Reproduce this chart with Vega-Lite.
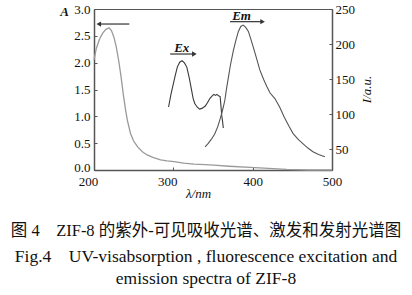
{
  "$schema": "https://vega.github.io/schema/vega-lite/v6.json",
  "width": 238,
  "height": 161,
  "autosize": "none",
  "padding": {"left": 94, "top": 9, "right": 80, "bottom": 125},
  "background": "white",
  "datasets": {
    "abs": [
      {"wl": 200, "val": 2.05}, {"wl": 203, "val": 2.27}, {"wl": 207, "val": 2.44}, {"wl": 211, "val": 2.55},
      {"wl": 215, "val": 2.62}, {"wl": 219, "val": 2.65}, {"wl": 222, "val": 2.6}, {"wl": 225, "val": 2.48},
      {"wl": 228, "val": 2.3}, {"wl": 231, "val": 2.05}, {"wl": 234, "val": 1.75}, {"wl": 237, "val": 1.4},
      {"wl": 240, "val": 1.1}, {"wl": 242, "val": 0.93}, {"wl": 246, "val": 0.68}, {"wl": 250, "val": 0.54},
      {"wl": 255, "val": 0.43}, {"wl": 261, "val": 0.34}, {"wl": 267, "val": 0.28}, {"wl": 275, "val": 0.23},
      {"wl": 284, "val": 0.19}, {"wl": 292, "val": 0.17}, {"wl": 301, "val": 0.155}, {"wl": 313, "val": 0.13},
      {"wl": 326, "val": 0.11}, {"wl": 340, "val": 0.1}, {"wl": 351, "val": 0.09}, {"wl": 370, "val": 0.07},
      {"wl": 397, "val": 0.05}, {"wl": 420, "val": 0.03}, {"wl": 443, "val": 0.01}, {"wl": 470, "val": 0.0},
      {"wl": 500, "val": 0.0}
    ],
    "absArrow": [{"wl": 244.5, "wl2": 207, "val": 2.72}],
    "absHead": [{"wl": 206, "val": 2.72}],
    "fl": [
      {"series": "Ex", "wl": 294, "val": 110}, {"series": "Ex", "wl": 297, "val": 128}, {"series": "Ex", "wl": 300, "val": 143},
      {"series": "Ex", "wl": 302, "val": 153}, {"series": "Ex", "wl": 305, "val": 167}, {"series": "Ex", "wl": 308, "val": 174},
      {"series": "Ex", "wl": 311, "val": 176}, {"series": "Ex", "wl": 314, "val": 173}, {"series": "Ex", "wl": 317, "val": 167},
      {"series": "Ex", "wl": 320, "val": 152}, {"series": "Ex", "wl": 323, "val": 134}, {"series": "Ex", "wl": 325, "val": 122},
      {"series": "Ex", "wl": 327, "val": 115}, {"series": "Ex", "wl": 330, "val": 110}, {"series": "Ex", "wl": 333, "val": 107},
      {"series": "Ex", "wl": 336, "val": 108}, {"series": "Ex", "wl": 340, "val": 111}, {"series": "Ex", "wl": 343, "val": 116},
      {"series": "Ex", "wl": 346, "val": 122}, {"series": "Ex", "wl": 349, "val": 126}, {"series": "Ex", "wl": 351, "val": 128},
      {"series": "Ex", "wl": 353, "val": 126.5}, {"series": "Ex", "wl": 355, "val": 128}, {"series": "Ex", "wl": 357, "val": 126},
      {"series": "Ex", "wl": 359, "val": 125}, {"series": "Ex", "wl": 360, "val": 112}, {"series": "Ex", "wl": 361, "val": 98},
      {"series": "Ex", "wl": 362, "val": 90}, {"series": "Ex", "wl": 363, "val": 80},
      {"series": "Em", "wl": 340, "val": 53}, {"series": "Em", "wl": 344, "val": 58}, {"series": "Em", "wl": 348, "val": 64},
      {"series": "Em", "wl": 352, "val": 71}, {"series": "Em", "wl": 356, "val": 82}, {"series": "Em", "wl": 359, "val": 93},
      {"series": "Em", "wl": 361, "val": 101}, {"series": "Em", "wl": 363, "val": 110}, {"series": "Em", "wl": 365, "val": 120},
      {"series": "Em", "wl": 367, "val": 136}, {"series": "Em", "wl": 369.5, "val": 153}, {"series": "Em", "wl": 372, "val": 170},
      {"series": "Em", "wl": 375.7, "val": 191}, {"series": "Em", "wl": 379, "val": 206}, {"series": "Em", "wl": 382, "val": 218},
      {"series": "Em", "wl": 385, "val": 225}, {"series": "Em", "wl": 388, "val": 227}, {"series": "Em", "wl": 391, "val": 224},
      {"series": "Em", "wl": 394.6, "val": 218}, {"series": "Em", "wl": 398, "val": 206}, {"series": "Em", "wl": 403, "val": 187},
      {"series": "Em", "wl": 409, "val": 163}, {"series": "Em", "wl": 414, "val": 149}, {"series": "Em", "wl": 418, "val": 139},
      {"series": "Em", "wl": 422, "val": 130}, {"series": "Em", "wl": 428, "val": 122}, {"series": "Em", "wl": 434, "val": 110},
      {"series": "Em", "wl": 440, "val": 95}, {"series": "Em", "wl": 446, "val": 82}, {"series": "Em", "wl": 451, "val": 72},
      {"series": "Em", "wl": 458, "val": 63}, {"series": "Em", "wl": 465, "val": 56}, {"series": "Em", "wl": 470, "val": 51},
      {"series": "Em", "wl": 476, "val": 46}, {"series": "Em", "wl": 483, "val": 42}, {"series": "Em", "wl": 491, "val": 39}
    ],
    "flArrow": [
      {"wl": 296, "wl2": 325.5, "val": 185.7},
      {"wl": 371.5, "wl2": 411.5, "val": 231.9}
    ],
    "flHead": [
      {"wl": 326.5, "val": 185.7},
      {"wl": 412.5, "val": 231.9}
    ],
    "flText": [
      {"wl": 310.6, "val": 195, "label": "Ex"},
      {"wl": 386, "val": 239.5, "label": "Em"}
    ]
  },
  "title": {
    "text": "图 4\u2003ZIF-8 的紫外-可见吸收光谱、激发和发射光谱图",
    "subtitle": ["Fig.4\u2003UV-visabsorption , fluorescence excitation and", "emission spectra of ZIF-8"],
    "orient": "bottom",
    "anchor": "middle",
    "frame": "group",
    "dx": -7,
    "offset": 23,
    "font": "Liberation Serif, Noto Sans CJK SC, serif",
    "fontSize": 16.5,
    "fontWeight": "normal",
    "color": "#111",
    "subtitleFont": "Liberation Serif, serif",
    "subtitleFontSize": 17.5,
    "subtitleColor": "#111",
    "subtitleLineHeight": 22,
    "subtitlePadding": 8
  },
  "config": {
    "view": {"stroke": "#555", "strokeWidth": 1},
    "axis": {
      "grid": false,
      "labelFlush": false,
      "domainColor": "#555",
      "domainWidth": 1.5,
      "tickColor": "#555",
      "tickSize": -3,
      "labelFont": "Liberation Serif, serif",
      "labelFontSize": 13,
      "labelColor": "#111",
      "titleFont": "Liberation Serif, serif",
      "titleFontSize": 13,
      "titleColor": "#111",
      "titleFontWeight": "normal"
    }
  },
  "encoding": {
    "x": {
      "field": "wl",
      "type": "quantitative",
      "scale": {"domain": [200, 500], "nice": false, "zero": false},
      "axis": {
        "values": [200, 300, 400, 500],
        "labelPadding": 8,
        "labelOffset": {"condition": {"test": "datum.value <= 300", "value": -6}, "value": 0},
        "title": "λ/nm",
        "titleFontStyle": "italic",
        "titleX": 104,
        "titleY": 23,
        "titleAlign": "center",
        "titleBaseline": "middle"
      }
    }
  },
  "layer": [
    {
      "encoding": {
        "y": {
          "field": "val",
          "type": "quantitative",
          "scale": {"domain": [0, 3], "nice": false, "zero": false},
          "axis": {
            "values": [0, 0.5, 1, 1.5, 2, 2.5, 3],
            "format": ".1f",
            "labelPadding": 7,
            "labelOffset": {"condition": {"test": "datum.value == 0", "value": -3}, "value": 0},
            "title": "A",
            "titleAngle": 0,
            "titleX": -30,
            "titleY": 2,
            "titleAlign": "center",
            "titleBaseline": "middle",
            "titleFontStyle": "italic",
            "titleFontWeight": "bold"
          }
        }
      },
      "layer": [
        {"data": {"name": "abs"}, "mark": {"type": "line", "color": "#9a9a9a", "strokeWidth": 1.3}},
        {"data": {"name": "absArrow"}, "mark": {"type": "rule", "color": "#333", "strokeWidth": 1.2}, "encoding": {"x2": {"field": "wl2"}}},
        {"data": {"name": "absHead"}, "mark": {"type": "point", "shape": "triangle-left", "filled": true, "size": 28, "color": "#333", "opacity": 1}}
      ]
    },
    {
      "encoding": {
        "y": {
          "field": "val",
          "type": "quantitative",
          "scale": {"domain": [20, 250], "nice": false, "zero": false},
          "axis": {
            "orient": "right",
            "values": [50, 100, 150, 200, 250],
            "labelPadding": 6,
            "title": "I/a.u.",
            "titleAngle": 270,
            "titleX": 34,
            "titleY": 80,
            "titleAlign": "center",
            "titleBaseline": "middle",
            "titleFontStyle": "italic"
          }
        }
      },
      "layer": [
        {
          "data": {"name": "fl"},
          "mark": {"type": "line", "strokeWidth": 1.1},
          "encoding": {
            "color": {"field": "series", "type": "nominal", "scale": {"domain": ["Ex", "Em"], "range": ["#3a3a3a", "#555555"]}, "legend": null}
          }
        },
        {"data": {"name": "flArrow"}, "mark": {"type": "rule", "color": "#333", "strokeWidth": 1.2}, "encoding": {"x2": {"field": "wl2"}}},
        {"data": {"name": "flHead"}, "mark": {"type": "point", "shape": "triangle-right", "filled": true, "size": 28, "color": "#333", "opacity": 1}},
        {
          "data": {"name": "flText"},
          "mark": {"type": "text", "font": "Liberation Serif, serif", "fontStyle": "italic", "fontWeight": "bold", "fontSize": 13, "align": "center", "baseline": "middle", "color": "#111"},
          "encoding": {"text": {"field": "label"}}
        }
      ]
    }
  ],
  "resolve": {"scale": {"y": "independent"}}
}
